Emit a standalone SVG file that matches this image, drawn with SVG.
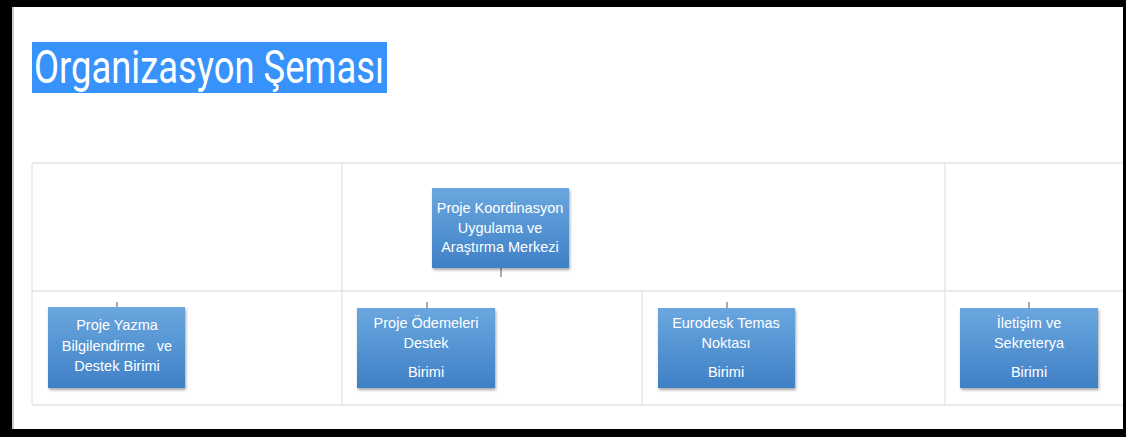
<svg xmlns="http://www.w3.org/2000/svg" width="1126" height="437" viewBox="0 0 1126 437">
<defs>
<linearGradient id="g" x1="0" y1="0" x2="0" y2="1">
<stop offset="0" stop-color="#6aa7df"/>
<stop offset="1" stop-color="#3f80c6"/>
</linearGradient>
<filter id="sh" x="-10%" y="-10%" width="125%" height="130%">
<feDropShadow dx="1" dy="2" stdDeviation="1.5" flood-color="#000" flood-opacity="0.35"/>
</filter>
<style>
.grid{stroke:#e3e3e3;stroke-width:1.3;fill:none}
.box{fill:url(#g);filter:url(#sh)}
.t{font-family:"Liberation Sans",Arial,sans-serif;font-size:14.5px;fill:#fff;text-anchor:middle}
.c{stroke:#666;stroke-width:1.1}
</style>
</defs>
<rect x="0" y="0" width="1126" height="437" fill="#000"/>
<rect x="12" y="7" width="1111" height="422" fill="#fff"/>
<line x1="13" y1="7" x2="13" y2="429" stroke="#bbb" stroke-width="1.5"/>
<rect x="32" y="42" width="355" height="51" fill="#3793fb"/>
<text x="34" y="83" font-family="Roboto,'Liberation Sans',sans-serif" font-size="46" fill="#fff" textLength="350" lengthAdjust="spacingAndGlyphs">Organizasyon Şeması</text>
<g id="grid">
<line class="grid" x1="32" y1="163" x2="1123" y2="163"/>
<line class="grid" x1="32" y1="291" x2="1123" y2="291"/>
<line class="grid" x1="32" y1="405" x2="1123" y2="405"/>
<line class="grid" x1="32" y1="163" x2="32" y2="405"/>
<line class="grid" x1="342" y1="163" x2="342" y2="405"/>
<line class="grid" x1="945" y1="163" x2="945" y2="405"/>
<line class="grid" x1="642" y1="291" x2="642" y2="405"/>
</g>
<g id="connectors">
<line class="c" x1="501" y1="268" x2="501" y2="277"/>
<line class="c" x1="117" y1="302" x2="117" y2="307"/>
<line class="c" x1="427" y1="302" x2="427" y2="308"/>
<line class="c" x1="727" y1="302" x2="727" y2="308"/>
<line class="c" x1="1029" y1="302" x2="1029" y2="308"/>
</g>
<g id="n0">
<rect class="box" x="432" y="188" width="137" height="80"/>
<text class="t" x="500" y="213">Proje Koordinasyon</text>
<text class="t" x="500" y="233">Uygulama ve</text>
<text class="t" x="500" y="252">Araştırma Merkezi</text>
</g>
<g id="n1">
<rect class="box" x="48" y="307" width="137" height="81"/>
<text class="t" x="117" y="330">Proje Yazma</text>
<text class="t" x="117" y="351" xml:space="preserve">Bilgilendirme   ve</text>
<text class="t" x="117" y="371">Destek Birimi</text>
</g>
<g id="n2">
<rect class="box" x="357" y="308" width="138" height="80"/>
<text class="t" x="426" y="328">Proje Ödemeleri</text>
<text class="t" x="426" y="348">Destek</text>
<text class="t" x="426" y="377">Birimi</text>
</g>
<g id="n3">
<rect class="box" x="658" y="308" width="137" height="80"/>
<text class="t" x="726" y="328">Eurodesk Temas</text>
<text class="t" x="726" y="348">Noktası</text>
<text class="t" x="726" y="377">Birimi</text>
</g>
<g id="n4">
<rect class="box" x="960" y="308" width="138" height="80"/>
<text class="t" x="1029" y="328">İletişim ve</text>
<text class="t" x="1029" y="348">Sekreterya</text>
<text class="t" x="1029" y="377">Birimi</text>
</g>
</svg>
